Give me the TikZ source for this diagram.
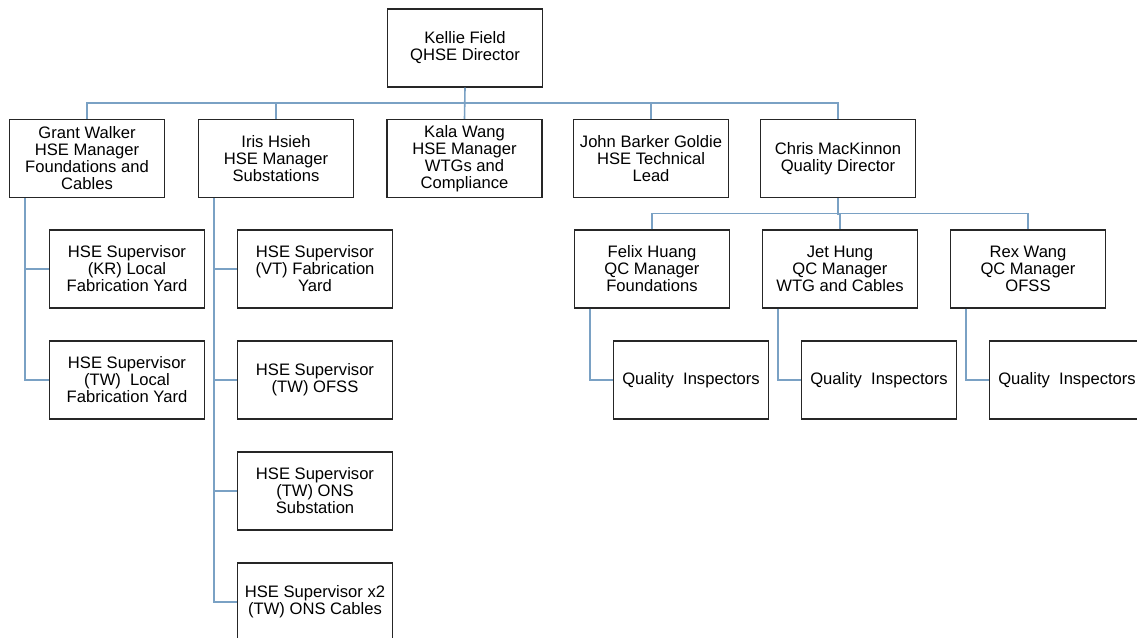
\documentclass[tikz,border=0pt]{standalone}
\usepackage{fontspec}
\setmainfont{Liberation Sans}
\usepackage{xcolor}
\usetikzlibrary{math}

\definecolor{linkblue}{RGB}{122,161,196}

\begin{document}
\begin{tikzpicture}[x=1pt,y=-1pt,
  box/.style={draw=black!85,line width=1.3pt,fill=white,minimum width=155pt,
    minimum height=78pt,inner sep=1pt,align=center,font=\fontsize{16.6}{17}\selectfont},
  link/.style={draw=linkblue,line width=1.6pt}]
\tikzmath{
\ya=48; \yb=158.5; \yc=269; \yd=380; \ye=491; \yf=602;
\drop=16;
}
\useasboundingbox (0,0) rectangle (1137,637);

% top
\node[box] (kellie) at (465,\ya) {Kellie Field\\QHSE Director};

% managers
\node[box] (grant) at (87,\yb) {Grant Walker\\HSE Manager\\Foundations and\\Cables};
\node[box] (iris) at (276,\yb) {Iris Hsieh\\HSE Manager\\Substations};
\node[box] (kala) at (464.5,\yb) {Kala Wang\\HSE Manager\\WTGs and\\Compliance};
\node[box] (john) at (651,\yb) {John Barker Goldie\\HSE Technical\\Lead};
\node[box] (chris) at (838,\yb) {Chris MacKinnon\\Quality Director};

% HSE supervisors
\node[box] (krlocal) at (127,\yc) {HSE Supervisor\\(KR) Local\\Fabrication Yard};
\node[box] (twlocal) at (127,\yd) {HSE Supervisor\\(TW)\ \ Local\\Fabrication Yard};
\node[box] (vtyard) at (315,\yc) {HSE Supervisor\\(VT) Fabrication\\Yard};
\node[box] (twofss) at (315,\yd) {HSE Supervisor\\(TW) OFSS};
\node[box] (twons) at (315,\ye) {HSE Supervisor\\(TW) ONS\\Substation};
\node[box] (twcables) at (315,\yf) {HSE Supervisor x2\\(TW) ONS Cables};

% QC managers
\node[box] (felix) at (652,\yc) {Felix Huang\\QC Manager\\Foundations};
\node[box] (jet) at (840,\yc) {Jet Hung\\QC Manager\\WTG and Cables};
\node[box] (rex) at (1028,\yc) {Rex Wang\\QC Manager\\OFSS};

\node[box] (inspa) at (691,\yd) {Quality\ \ Inspectors};
\node[box] (inspb) at (879,\yd) {Quality\ \ Inspectors};
\node[box] (inspc) at (1067,\yd) {Quality\ \ Inspectors};

% buses
\draw[link] (kellie.south) -- (kala.north);
\draw[link] (grant.north) -- ++(0,-\drop) -| (chris.north);
\foreach \nm in {iris,john}
  \draw[link] (\nm.north) -- ++(0,-\drop);

\draw[link] (felix.north) -- ++(0,-\drop) -| (rex.north);
\draw[link] (chris.south) -- ++(0,\drop+1);
\draw[link] (jet.north) -- ++(0,-\drop);

% side drops
\foreach \up/\dn in {grant/krlocal,grant/twlocal,iris/vtyard,iris/twofss,iris/twons,iris/twcables,
  felix/inspa,jet/inspb,rex/inspc}{
  \coordinate (\up drop) at ([xshift=\drop pt]\up.south west);
  \draw[link] (\up drop) |- (\dn.west);
}

\end{tikzpicture}
\end{document}
